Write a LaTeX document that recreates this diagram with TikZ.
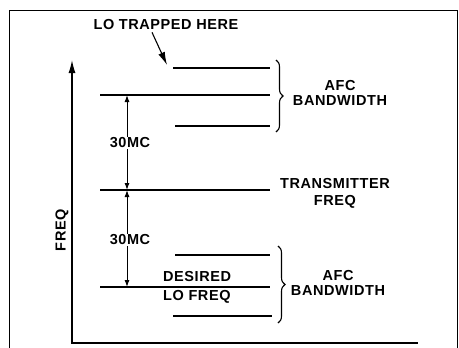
\documentclass[tikz,border=0pt]{standalone}
\usepackage{fontspec}
\setsansfont[LetterSpace=4]{Liberation Sans}
\usetikzlibrary{arrows.meta,positioning,decorations.pathreplacing}

\begin{document}
\begin{tikzpicture}[
    x=1pt, y=-1pt,
    font=\sffamily\bfseries\fontsize{14.5}{15}\selectfont,
    level_line/.style={line width=1.2pt},
    axis_line/.style={line width=1.3pt},
    dim_arrow/.style={line width=1pt, {Latex[length=7pt,width=5pt]}-{Latex[length=7pt,width=5pt]}},
    dim_label/.style={fill=white, inner sep=1pt},
    afc_brace/.style={line width=1.1pt, decorate, decoration={brace, amplitude=7pt}},
    txt/.style={inner sep=0pt, align=center}
]
\useasboundingbox (0,0) rectangle (459,348);

% FRAME
\draw[line width=1.5pt] (9.5,348) -- (9.5,10.5) -- (457.5,10.5) -- (457.5,348);

% AXES
\coordinate (origin) at (72,343);
\coordinate (ax_top) at (72,60);
\coordinate (ax_right) at (418,343);
\draw[axis_line, {Latex[length=13pt,width=7pt]}-] (ax_top) -- (origin) -- (ax_right);
\node[txt, rotate=90] (freq_lbl) at (62,230) {FREQ};

% UPPER AFC BAND
\coordinate (trap_l) at (173,68);   \coordinate (trap_r) at (270,68);
\coordinate (image_l) at (100,95);  \coordinate (image_r) at (270,95);
\coordinate (ulow_l) at (175,126);  \coordinate (ulow_r) at (270,126);
\draw[level_line] (trap_l) -- (trap_r);
\draw[level_line] (image_l) -- (image_r);
\draw[level_line] (ulow_l) -- (ulow_r);
\coordinate (ubrace_t) at (276,60);
\coordinate (ubrace_b) at (276,132);
\draw[afc_brace] (ubrace_t) -- (ubrace_b);
\node[txt] (afc_up) at (340,93) {AFC\\BANDWIDTH};

% LO TRAPPED
\node[txt] (trap_txt) at (166,25) {LO TRAPPED HERE};
\coordinate (trap_tip) at (167,65);
\draw[line width=1.1pt, -{Latex[length=13pt,width=7pt]}] ([xshift=-14pt,yshift=-2pt]trap_txt.south) -- (trap_tip);

% TRANSMITTER
\coordinate (tx_l) at (100,190);   \coordinate (tx_r) at (270,190);
\draw[level_line] (tx_l) -- (tx_r);
\node[txt] (tx_lbl) at (335,193) {TRANSMITTER\\[2pt]FREQ};

% LOWER AFC BAND
\coordinate (lup_l) at (175,255);   \coordinate (lup_r) at (270,255);
\coordinate (lo_l) at (100,287);    \coordinate (lo_r) at (270,287);
\coordinate (llow_l) at (173,316);  \coordinate (llow_r) at (272,316);
\draw[level_line] (lup_l) -- (lup_r);
\draw[level_line] (lo_l) -- (lo_r);
\draw[level_line] (llow_l) -- (llow_r);
\coordinate (lbrace_t) at (278,246);
\coordinate (lbrace_b) at (278,323);
\draw[afc_brace] (lbrace_t) -- (lbrace_b);
\node[txt] (afc_low) at (338,283) {AFC\\BANDWIDTH};
\node[txt, anchor=west] (desired) at (163,277) {DESIRED};
\node[txt, anchor=west] (lo_freq) at (163,297) {LO FREQ};

% 30MC SPACINGS
\coordinate (dim_a) at (127,95);
\coordinate (dim_b) at (127,190);
\coordinate (dim_c) at (127,287);
\draw[dim_arrow] (dim_a) -- (dim_b);
\draw[dim_arrow] (dim_b) -- (dim_c);
\node[dim_label] (mc_up) at (130,143) {30MC};
\node[dim_label] (mc_low) at (130,240) {30MC};

\end{tikzpicture}
\end{document}
